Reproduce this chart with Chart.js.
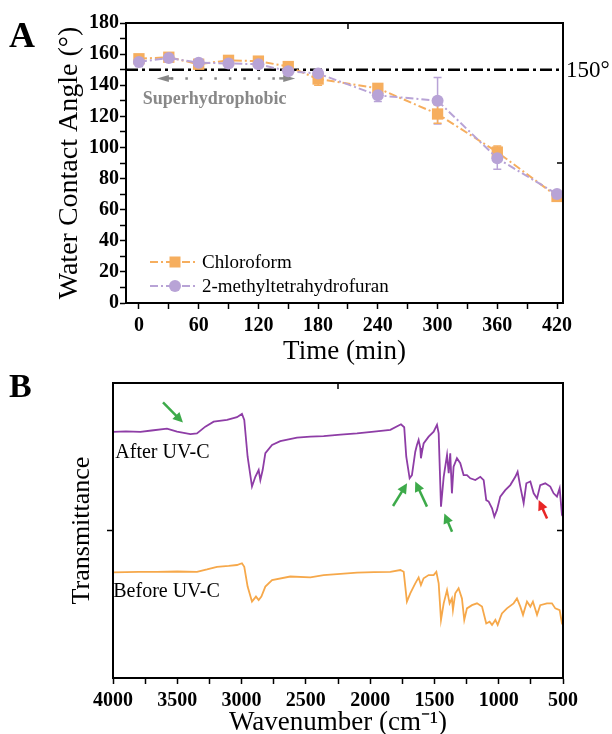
<!DOCTYPE html>
<html>
<head>
<meta charset="utf-8">
<script src="https://cdn.jsdelivr.net/npm/chart.js@4.4.0/dist/chart.umd.min.js"></script>
<style>
    html, body { margin: 0; padding: 0; background: #fff; }
    #wrapA { position: absolute; left: 0; top: 0; }
    #wrapB { position: absolute; left: 0; top: 366px; }
</style>
</head>
<body>
<div id="wrapA"><canvas id="chartA" width="612" height="366"></canvas></div>
<div id="wrapB"><canvas id="chartB" width="612" height="372"></canvas></div>
<script>
// ---- Panel A: water contact angle vs UV-C time ----
const timeMin = [0, 30, 60, 90, 120, 150, 180, 240, 300, 360, 420];
const chloroform = [157, 158, 153.5, 156, 155.5, 152, 144, 138, 121.5, 97, 68.5];
const chloroformErr = [1.5, 1, 1.5, 1.5, 1.5, 1.5, 4, 2, 6, 4, 1.5];
const methylThf = [155, 157.5, 154.5, 154, 153.5, 149, 147.5, 133.5, 130, 93, 70];
const methylThfErr = [3, 1, 1.5, 1.5, 1.5, 1.5, 1.5, 4, 15, 7, 1.5];
const timeTicks = [0, 30, 60, 90, 120, 150, 180, 210, 240, 270, 300, 330, 360, 390, 420];
const angleTicks = [0, 10, 20, 30, 40, 50, 60, 70, 80, 90, 100, 110, 120, 130, 140, 150, 160, 170, 180];
const thresholdAngle = 150;

// ---- Panel B: FTIR spectra ----
const afterWn = [4000, 3900, 3787, 3700, 3580, 3502, 3398, 3347, 3282, 3217, 3113, 3036, 2997, 2979, 2953, 2919,
    2893, 2867, 2854, 2836, 2815, 2763, 2699, 2569, 2465, 2362, 2230, 2102, 1970, 1843, 1760, 1735, 1719, 1693,
    1675, 1649, 1636, 1623, 1610, 1605, 1595, 1584, 1545, 1506, 1480, 1467, 1449, 1428, 1402, 1389, 1377, 1364,
    1351, 1325, 1299, 1273, 1247, 1221, 1182, 1143, 1117, 1097, 1078, 1052, 1034, 1014, 988, 949, 910, 871, 853,
    832, 806, 785, 754, 728, 702, 677, 638, 599, 573, 547, 526, 508, 500];
const afterT = [83.4, 83.6, 83.4, 83.9, 84.5, 83.5, 82.7, 82.9, 85.2, 86.9, 87.5, 88.4, 89.5, 87.5, 75, 64.9,
    68.2, 70.5, 67.1, 70.5, 76.2, 79, 80.3, 81.5, 81.8, 82, 82.5, 82.9, 83.5, 84.1, 86, 85, 75, 67.7,
    68.8, 76.7, 79, 80.7, 78, 74.5, 77, 79.5, 81.8, 83.5, 85.8, 82.9, 58.1, 68.2, 75.6, 69.4, 76.2, 62.6,
    71.6, 74.5, 72.8, 68.8, 68.8, 67.7, 67.1, 68.2, 67.1, 60.3, 59.8, 57.5, 54.7, 56.9, 61.5, 63.7, 65.4, 68.2, 69.9,
    64.9, 59.3, 66, 66.6, 62.6, 60.9, 65.4, 66, 64.9, 62.6, 61.5, 64.3, 55.3, 54.7];
const beforeWn = [4000, 3900, 3800, 3658, 3500, 3347, 3269, 3191, 3100, 3036, 2997, 2979, 2953, 2919, 2888, 2867,
    2846, 2815, 2763, 2621, 2465, 2362, 2230, 2102, 1970, 1843, 1765, 1739, 1714, 1688, 1649, 1623, 1605, 1584,
    1545, 1506, 1485, 1467, 1449, 1428, 1402, 1382, 1364, 1356, 1338, 1312, 1286, 1268, 1247, 1208, 1169, 1130,
    1097, 1071, 1052, 1026, 1008, 975, 936, 884, 858, 832, 811, 780, 754, 734, 702, 677, 625, 586, 560, 526, 508, 500];
const beforeT = [35.8, 35.9, 36, 36, 36.1, 36, 36.8, 37.7, 38, 38.3, 38.9, 37.7, 31, 25.9, 27.6, 26.4,
    27.6, 31, 33.2, 34.4, 34.1, 34.9, 35.3, 35.7, 35.9, 36, 36.6, 36, 25.9, 28.7, 32.1, 34.1, 31.5, 33.8,
    34.9, 34.9, 36, 32.1, 19.7, 25.3, 29.8, 25.3, 27, 23.1, 28.7, 30.4, 27, 19.7, 23.6, 24.7, 25.3, 24.2,
    18.5, 19.1, 18, 19.7, 18, 21.9, 23.6, 25.3, 27, 24.2, 21.4, 25.9, 24.2, 25.9, 21.4, 24.7, 25.3, 25.3, 23.6, 23, 18.5, 18];
const wnTicks = [4000, 3750, 3500, 3250, 3000, 2750, 2500, 2250, 2000, 1750, 1500, 1250, 1000, 750, 500];

const SERIF = "'Liberation Serif', 'Times New Roman', serif";
const ORANGE_A = '#F6AE5E';
const LAVENDER = '#B8A3D6';
const PURPLE = '#8E3DA6';
const ORANGE_B = '#F6A84A';
const DASH_DOT = [8, 3, 2, 3];

function drawArrow(ctx, x1, y1, x2, y2, color, lw, head) {
    const ang = Math.atan2(y2 - y1, x2 - x1);
    const c = Math.cos(ang), s = Math.sin(ang);
    ctx.save();
    ctx.strokeStyle = color;
    ctx.fillStyle = color;
    ctx.lineWidth = lw;
    ctx.beginPath();
    ctx.moveTo(x1, y1);
    ctx.lineTo(x2 - c * head * 0.8, y2 - s * head * 0.8);
    ctx.stroke();
    ctx.beginPath();
    ctx.moveTo(x2, y2);
    ctx.lineTo(x2 - head * c + head * 0.5 * s, y2 - head * s - head * 0.5 * c);
    ctx.lineTo(x2 - head * c - head * 0.5 * s, y2 - head * s + head * 0.5 * c);
    ctx.closePath();
    ctx.fill();
    ctx.restore();
}

// Box frame, the single inward ticks on top/right, and the panel letter
const frameBox = {
    id: 'frameBox',
    afterDraw(chart, args, opts) {
        const { ctx, chartArea: ca, scales: { x, y } } = chart;
        ctx.save();
        ctx.strokeStyle = '#000';
        ctx.lineWidth = 2;
        ctx.strokeRect(ca.left, ca.top, ca.right - ca.left, ca.bottom - ca.top);
        const tx = x.getPixelForValue(opts.topTick);
        const ry = y.getPixelForValue(opts.rightTick);
        ctx.lineWidth = 1.5;
        ctx.beginPath();
        ctx.moveTo(tx, ca.top); ctx.lineTo(tx, ca.top + 6);
        ctx.moveTo(ca.right, ry); ctx.lineTo(ca.right - 6, ry);
        ctx.stroke();
        ctx.fillStyle = '#000';
        ctx.font = 'bold ' + opts.letterSize + 'px ' + SERIF;
        ctx.textBaseline = 'alphabetic';
        ctx.fillText(opts.letter, opts.letterX, opts.letterY);
        ctx.restore();
    }
};

// Vertical error bars from the dataset's errors array
const errorBars = {
    id: 'errorBars',
    beforeDatasetsDraw(chart) {
        const { ctx, scales: { x, y } } = chart;
        chart.data.datasets.forEach(ds => {
            if (!ds.errors) return;
            ctx.save();
            ctx.strokeStyle = ds.borderColor;
            ctx.lineWidth = 1.5;
            ds.data.forEach((p, i) => {
                const e = ds.errors[i];
                const px = x.getPixelForValue(p.x);
                const top = y.getPixelForValue(p.y + e);
                const bot = y.getPixelForValue(p.y - e);
                ctx.beginPath();
                ctx.moveTo(px, top); ctx.lineTo(px, bot);
                ctx.moveTo(px - 4, top); ctx.lineTo(px + 4, top);
                ctx.moveTo(px - 4, bot); ctx.lineTo(px + 4, bot);
                ctx.stroke();
            });
            ctx.restore();
        });
    }
};

const panelAExtras = {
    id: 'panelAExtras',
    beforeDatasetsDraw(chart) {
        const { ctx, chartArea: ca, scales: { x, y } } = chart;
        ctx.save();
        // 150° threshold
        const y150 = y.getPixelForValue(thresholdAngle);
        ctx.strokeStyle = '#000';
        ctx.lineWidth = 2.5;
        ctx.setLineDash([12, 4, 3, 4]);
        ctx.beginPath();
        ctx.moveTo(ca.left, y150);
        ctx.lineTo(ca.right, y150);
        ctx.stroke();
        ctx.setLineDash([]);
        ctx.fillStyle = '#000';
        ctx.font = '23px ' + SERIF;
        ctx.textBaseline = 'middle';
        ctx.fillText('150°', ca.right + 3, y150 + 1);

        // superhydrophobic range (dotted double arrow)
        const ay = y.getPixelForValue(144.4);
        const ax1 = x.getPixelForValue(18);
        const ax2 = x.getPixelForValue(157);
        ctx.strokeStyle = '#888';
        ctx.fillStyle = '#888';
        ctx.lineWidth = 2.5;
        ctx.setLineDash([2.5, 12]);
        ctx.beginPath();
        ctx.moveTo(ax1 + 14, ay);
        ctx.lineTo(ax2 - 14, ay);
        ctx.stroke();
        ctx.setLineDash([]);
        ctx.beginPath();
        ctx.moveTo(ax1, ay); ctx.lineTo(ax1 + 12, ay - 3.5); ctx.lineTo(ax1 + 12, ay + 3.5); ctx.closePath();
        ctx.moveTo(ax2, ay); ctx.lineTo(ax2 - 12, ay - 3.5); ctx.lineTo(ax2 - 12, ay + 3.5); ctx.closePath();
        ctx.fill();
        ctx.fillRect(ax1 + 10, ay - 1.2, 6, 2.4);
        ctx.fillRect(ax2 - 16, ay - 1.2, 6, 2.4);

        ctx.font = 'bold 18px ' + SERIF;
        ctx.textAlign = 'center';
        ctx.fillText('Superhydrophobic', x.getPixelForValue(76), y.getPixelForValue(131));
        ctx.restore();
    },
    afterDatasetsDraw(chart) {
        // legend in lower left corner
        const { ctx, chartArea: ca } = chart;
        const rows = [
            { label: 'Chloroform', color: ORANGE_A, style: 'rect', dy: 41 },
            { label: '2-methyltetrahydrofuran', color: LAVENDER, style: 'circle', dy: 17 }
        ];
        ctx.save();
        rows.forEach(r => {
            const yy = ca.bottom - r.dy;
            ctx.strokeStyle = r.color;
            ctx.lineWidth = 2;
            ctx.setLineDash(DASH_DOT);
            ctx.beginPath();
            ctx.moveTo(ca.left + 24, yy);
            ctx.lineTo(ca.left + 70, yy);
            ctx.stroke();
            ctx.setLineDash([]);
            ctx.fillStyle = r.color;
            if (r.style === 'rect') {
                ctx.fillRect(ca.left + 49 - 5.5, yy - 5.5, 11, 11);
            } else {
                ctx.beginPath();
                ctx.arc(ca.left + 49, yy, 6, 0, Math.PI * 2);
                ctx.fill();
            }
            ctx.fillStyle = '#000';
            ctx.font = '19px ' + SERIF;
            ctx.textBaseline = 'middle';
            ctx.fillText(r.label, ca.left + 76, yy + 1);
        });
        ctx.restore();
    }
};

const panelBExtras = {
    id: 'panelBExtras',
    afterDatasetsDraw(chart) {
        const { ctx, scales: { x, y } } = chart;
        ctx.save();
        ctx.fillStyle = '#000';
        ctx.font = '20px ' + SERIF;
        ctx.textBaseline = 'alphabetic';
        ctx.fillText('After UV-C', x.getPixelForValue(3982), y.getPixelForValue(74.6));
        ctx.fillText('Before UV-C', x.getPixelForValue(3998), y.getPixelForValue(27.6));
        ctx.restore();
        const green = [[3611, 93.4, 3456, 86.6], [1822, 58.3, 1713, 66], [1558, 58.1, 1649, 66.6], [1363, 49.6, 1423, 55.8]];
        green.forEach(a => drawArrow(ctx, x.getPixelForValue(a[0]), y.getPixelForValue(a[1]),
            x.getPixelForValue(a[2]), y.getPixelForValue(a[3]), '#3DAA4A', 2.5, 10));
        drawArrow(ctx, x.getPixelForValue(624), y.getPixelForValue(54.1),
            x.getPixelForValue(689), y.getPixelForValue(60.3), '#E82626', 2.5, 10);
    }
};

const tickFont = { family: SERIF, size: 20, weight: 'bold' };

new Chart(document.getElementById('chartA'), {
    type: 'line',
    data: {
        datasets: [
            {
                label: '2-methyltetrahydrofuran',
                data: timeMin.map((t, i) => ({ x: t, y: methylThf[i] })),
                errors: methylThfErr,
                borderColor: LAVENDER,
                backgroundColor: LAVENDER,
                borderWidth: 2,
                borderDash: DASH_DOT,
                pointStyle: 'circle',
                pointRadius: 6,
                pointBorderWidth: 0
            },
            {
                label: 'Chloroform',
                data: timeMin.map((t, i) => ({ x: t, y: chloroform[i] })),
                errors: chloroformErr,
                borderColor: ORANGE_A,
                backgroundColor: ORANGE_A,
                borderWidth: 2,
                borderDash: DASH_DOT,
                pointStyle: 'rect',
                pointRadius: 8,
                pointBorderWidth: 0
            }
        ]
    },
    options: {
        responsive: false,
        animation: false,
        layout: { padding: { top: 23, right: 49, left: 0, bottom: 0 } },
        plugins: {
            legend: { display: false },
            tooltip: { enabled: false },
            frameBox: { topTick: 210, rightTick: 90, letter: 'A', letterSize: 36, letterX: 9, letterY: 47 }
        },
        scales: {
            x: {
                type: 'linear',
                min: -13,
                max: 426,
                afterBuildTicks: s => { s.ticks = timeTicks.map(v => ({ value: v })); },
                afterFit: s => { s.height = 63; },
                ticks: {
                    callback: v => (v % 60 === 0 ? v : ''),
                    font: tickFont, color: '#000', padding: 5, maxRotation: 0, autoSkip: false
                },
                grid: { drawOnChartArea: false, tickLength: 6, color: '#000', tickWidth: 1.5 },
                border: { color: '#000', width: 2 },
                title: { display: true, text: 'Time (min)', font: { family: SERIF, size: 27 }, color: '#000', padding: { top: 0, bottom: -2 } }
            },
            y: {
                min: 0,
                max: 180,
                afterBuildTicks: s => { s.ticks = angleTicks.map(v => ({ value: v })); },
                afterFit: s => { s.width = 126; },
                ticks: {
                    callback: v => (v % 20 === 0 ? v : ''),
                    font: tickFont, color: '#000', padding: 1, autoSkip: false
                },
                grid: { drawOnChartArea: false, tickLength: 6, color: '#000', tickWidth: 1.5 },
                border: { color: '#000', width: 2 },
                title: { display: true, text: 'Water Contact Angle (°)', font: { family: SERIF, size: 28 }, color: '#000', padding: { top: 53, bottom: 0 } }
            }
        }
    },
    plugins: [errorBars, panelAExtras, frameBox]
});

new Chart(document.getElementById('chartB'), {
    type: 'line',
    data: {
        datasets: [
            {
                label: 'After UV-C',
                data: afterWn.map((w, i) => ({ x: w, y: afterT[i] })),
                borderColor: PURPLE,
                borderWidth: 1.8,
                pointRadius: 0
            },
            {
                label: 'Before UV-C',
                data: beforeWn.map((w, i) => ({ x: w, y: beforeT[i] })),
                borderColor: ORANGE_B,
                borderWidth: 1.8,
                pointRadius: 0
            }
        ]
    },
    options: {
        responsive: false,
        animation: false,
        layout: { padding: { top: 17, right: 49, left: 0, bottom: 0 } },
        plugins: {
            legend: { display: false },
            tooltip: { enabled: false },
            frameBox: { topTick: 2250, rightTick: 50, letter: 'B', letterSize: 34, letterX: 9, letterY: 31 }
        },
        scales: {
            x: {
                type: 'linear',
                min: 500,
                max: 4000,
                reverse: true,
                afterBuildTicks: s => { s.ticks = wnTicks.map(v => ({ value: v })); },
                afterFit: s => { s.height = 60; },
                ticks: {
                    callback: v => (v % 500 === 0 ? v : ''),
                    font: tickFont, color: '#000', padding: 5, maxRotation: 0, autoSkip: false
                },
                grid: { drawOnChartArea: false, tickLength: 6, color: '#000', tickWidth: 1.5 },
                border: { color: '#000', width: 2 },
                title: { display: true, text: 'Wavenumber (cm⁻¹)', font: { family: SERIF, size: 27 }, color: '#000', padding: { top: 0, bottom: -1 } }
            },
            y: {
                min: 0,
                max: 100,
                afterBuildTicks: s => { s.ticks = [{ value: 50 }]; },
                afterFit: s => { s.width = 113; },
                ticks: { callback: () => '', font: tickFont },
                grid: { drawOnChartArea: false, tickLength: 6, color: '#000', tickWidth: 1.5 },
                border: { color: '#000', width: 2 },
                title: { display: true, text: 'Transmittance', font: { family: SERIF, size: 26 }, color: '#000', padding: { top: 67, bottom: 0 } }
            }
        }
    },
    plugins: [panelBExtras, frameBox]
});
</script>
</body>
</html>
